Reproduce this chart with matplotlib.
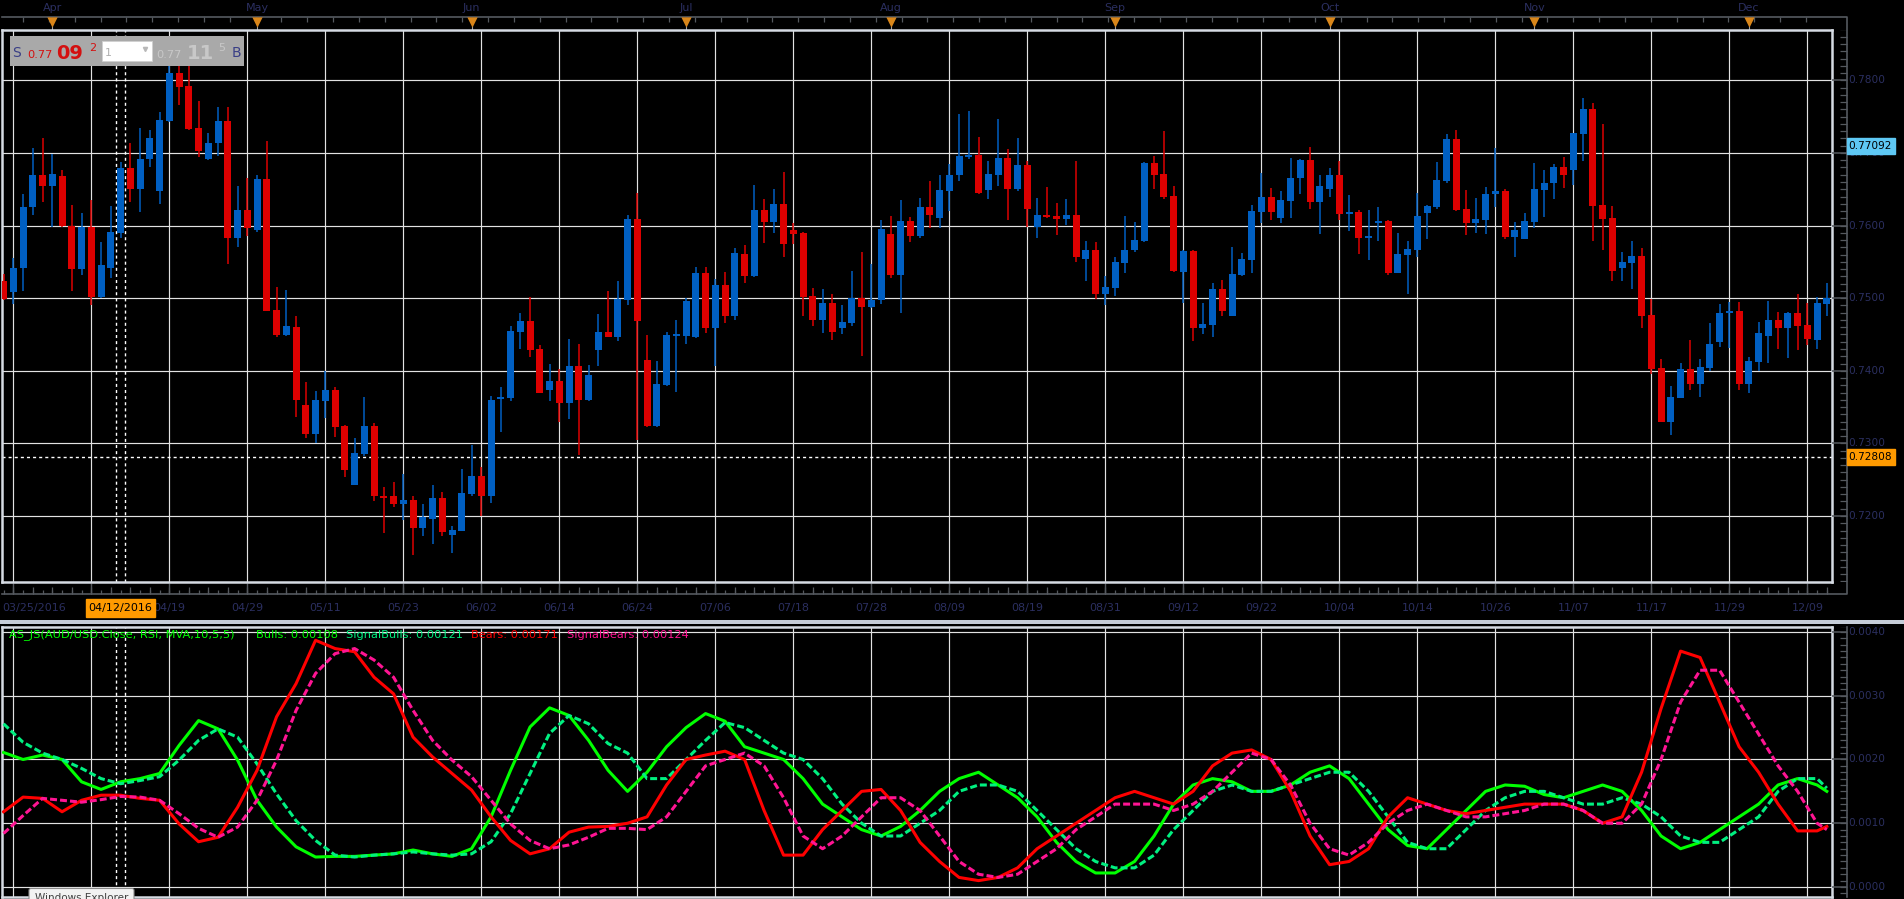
import matplotlib
matplotlib.use("Agg")
import matplotlib.pyplot as plt
import numpy as np
from matplotlib.patches import Rectangle, FancyBboxPatch

plt.rcParams["font.family"] = ["DejaVu Sans"]
plt.rcParams["lines.scale_dashes"] = False

W, H = 1904, 899

# ---- daily AUD/USD candles, index 0 = 03/25/2016 ----
opens = [
    0.7524, 0.7508, 0.7542, 0.7625, 0.7669, 0.7654, 0.7668, 0.7600, 0.7540, 0.7598,
    0.7502, 0.7541, 0.7590, 0.7679, 0.7651, 0.7691, 0.7648, 0.7744, 0.7810, 0.7792,
    0.7734, 0.7691, 0.7713, 0.7744, 0.7583, 0.7621, 0.7594, 0.7664, 0.7484, 0.7449,
    0.7460, 0.7353, 0.7313, 0.7359, 0.7373, 0.7324, 0.7243, 0.7285, 0.7324, 0.7228,
    0.7227, 0.7216, 0.7222, 0.7183, 0.7196, 0.7225, 0.7174, 0.7180, 0.7230, 0.7255,
    0.7228, 0.7361, 0.7363, 0.7454, 0.7469, 0.7430, 0.7373, 0.7386, 0.7355, 0.7407,
    0.7360, 0.7429, 0.7453, 0.7447, 0.7498, 0.7609, 0.7415, 0.7324, 0.7381, 0.7448,
    0.7448, 0.7446, 0.7535, 0.7459, 0.7518, 0.7476, 0.7561, 0.7530, 0.7621, 0.7605,
    0.7630, 0.7594, 0.7590, 0.7503, 0.7470, 0.7493, 0.7459, 0.7466, 0.7500, 0.7488,
    0.7497, 0.7588, 0.7532, 0.7606, 0.7585, 0.7626, 0.7611, 0.7648, 0.7669, 0.7695,
    0.7697, 0.7649, 0.7670, 0.7693, 0.7651, 0.7683, 0.7598, 0.7615, 0.7613, 0.7609,
    0.7615, 0.7554, 0.7566, 0.7506, 0.7514, 0.7549, 0.7566, 0.7579, 0.7686, 0.7671,
    0.7641, 0.7536, 0.7565, 0.7459, 0.7463, 0.7513, 0.7476, 0.7532, 0.7553, 0.7619,
    0.7639, 0.7611, 0.7634, 0.7665, 0.7690, 0.7633, 0.7651, 0.7670, 0.7616, 0.7619,
    0.7583, 0.7604, 0.7606, 0.7535, 0.7559, 0.7567, 0.7617, 0.7626, 0.7662, 0.7719,
    0.7623, 0.7603, 0.7608, 0.7643, 0.7648, 0.7584, 0.7582, 0.7605, 0.7649, 0.7658,
    0.7681, 0.7676, 0.7726, 0.7760, 0.7628, 0.7610, 0.7542, 0.7549, 0.7558, 0.7477,
    0.7404, 0.7329, 0.7363, 0.7402, 0.7382, 0.7404, 0.7440, 0.7479, 0.7482, 0.7382,
    0.7412, 0.7448, 0.7470, 0.7459, 0.7480, 0.7463, 0.7443, 0.7492,
]
highs = [
    0.7533, 0.7555, 0.7643, 0.7707, 0.7721, 0.7699, 0.7677, 0.7628, 0.7617, 0.7635,
    0.7577, 0.7627, 0.7688, 0.7714, 0.7734, 0.7732, 0.7756, 0.7823, 0.7826, 0.7832,
    0.7772, 0.7727, 0.7763, 0.7763, 0.7654, 0.7665, 0.7670, 0.7717, 0.7515, 0.7511,
    0.7475, 0.7384, 0.7372, 0.7400, 0.7378, 0.7325, 0.7308, 0.7364, 0.7328, 0.7240,
    0.7247, 0.7258, 0.7227, 0.7217, 0.7242, 0.7233, 0.7186, 0.7265, 0.7298, 0.7267,
    0.7365, 0.7377, 0.7462, 0.7479, 0.7502, 0.7435, 0.7410, 0.7402, 0.7444, 0.7437,
    0.7408, 0.7478, 0.7510, 0.7524, 0.7615, 0.7645, 0.7449, 0.7413, 0.7453, 0.7470,
    0.7500, 0.7543, 0.7543, 0.7526, 0.7536, 0.7569, 0.7573, 0.7656, 0.7637, 0.7650,
    0.7674, 0.7604, 0.7591, 0.7514, 0.7513, 0.7506, 0.7491, 0.7537, 0.7564, 0.7547,
    0.7608, 0.7613, 0.7635, 0.7612, 0.7638, 0.7661, 0.7670, 0.7685, 0.7754, 0.7758,
    0.7722, 0.7689, 0.7747, 0.7705, 0.7721, 0.7689, 0.7638, 0.7653, 0.7631, 0.7637,
    0.7689, 0.7579, 0.7577, 0.7531, 0.7557, 0.7613, 0.7605, 0.7687, 0.7696, 0.7730,
    0.7654, 0.7566, 0.7566, 0.7493, 0.7521, 0.7525, 0.7570, 0.7562, 0.7628, 0.7672,
    0.7652, 0.7648, 0.7693, 0.7691, 0.7708, 0.7670, 0.7679, 0.7689, 0.7642, 0.7621,
    0.7621, 0.7626, 0.7608, 0.7590, 0.7579, 0.7645, 0.7628, 0.7688, 0.7726, 0.7732,
    0.7649, 0.7638, 0.7653, 0.7707, 0.7650, 0.7605, 0.7617, 0.7686, 0.7677, 0.7685,
    0.7694, 0.7728, 0.7776, 0.7769, 0.7740, 0.7627, 0.7564, 0.7579, 0.7569, 0.7499,
    0.7416, 0.7379, 0.7411, 0.7442, 0.7416, 0.7466, 0.7492, 0.7495, 0.7495, 0.7419,
    0.7467, 0.7496, 0.7481, 0.7481, 0.7506, 0.7493, 0.7502, 0.7521,
]
lows = [
    0.7498, 0.7492, 0.7510, 0.7615, 0.7632, 0.7598, 0.7598, 0.7510, 0.7532, 0.7491,
    0.7500, 0.7528, 0.7583, 0.7632, 0.7619, 0.7680, 0.7630, 0.7743, 0.7766, 0.7732,
    0.7694, 0.7690, 0.7696, 0.7547, 0.7571, 0.7586, 0.7591, 0.7482, 0.7447, 0.7448,
    0.7337, 0.7308, 0.7300, 0.7335, 0.7309, 0.7254, 0.7242, 0.7282, 0.7221, 0.7176,
    0.7212, 0.7195, 0.7146, 0.7173, 0.7161, 0.7172, 0.7149, 0.7179, 0.7228, 0.7200,
    0.7218, 0.7315, 0.7359, 0.7430, 0.7419, 0.7369, 0.7359, 0.7330, 0.7334, 0.7284,
    0.7359, 0.7406, 0.7446, 0.7441, 0.7490, 0.7304, 0.7323, 0.7323, 0.7379, 0.7371,
    0.7437, 0.7445, 0.7452, 0.7407, 0.7466, 0.7470, 0.7521, 0.7529, 0.7576, 0.7590,
    0.7557, 0.7575, 0.7476, 0.7462, 0.7452, 0.7443, 0.7451, 0.7462, 0.7421, 0.7486,
    0.7492, 0.7528, 0.7480, 0.7577, 0.7583, 0.7597, 0.7597, 0.7620, 0.7661, 0.7691,
    0.7644, 0.7636, 0.7654, 0.7608, 0.7648, 0.7598, 0.7583, 0.7611, 0.7587, 0.7601,
    0.7550, 0.7524, 0.7499, 0.7490, 0.7503, 0.7535, 0.7563, 0.7578, 0.7651, 0.7636,
    0.7536, 0.7494, 0.7441, 0.7451, 0.7446, 0.7475, 0.7475, 0.7530, 0.7534, 0.7604,
    0.7608, 0.7603, 0.7611, 0.7644, 0.7623, 0.7589, 0.7640, 0.7608, 0.7592, 0.7561,
    0.7553, 0.7579, 0.7532, 0.7534, 0.7506, 0.7556, 0.7581, 0.7623, 0.7659, 0.7620,
    0.7587, 0.7590, 0.7589, 0.7625, 0.7582, 0.7557, 0.7581, 0.7597, 0.7612, 0.7637,
    0.7652, 0.7656, 0.7689, 0.7579, 0.7567, 0.7524, 0.7523, 0.7512, 0.7459, 0.7396,
    0.7329, 0.7311, 0.7362, 0.7373, 0.7364, 0.7400, 0.7433, 0.7432, 0.7374, 0.7370,
    0.7400, 0.7411, 0.7430, 0.7417, 0.7428, 0.7435, 0.7430, 0.7476,
]
closes = [
    0.7499, 0.7542, 0.7625, 0.7669, 0.7654, 0.7671, 0.7599, 0.7540, 0.7598, 0.7502,
    0.7545, 0.7591, 0.7679, 0.7651, 0.7692, 0.7721, 0.7745, 0.7810, 0.7791, 0.7733,
    0.7703, 0.7714, 0.7744, 0.7583, 0.7621, 0.7596, 0.7664, 0.7483, 0.7449, 0.7461,
    0.7360, 0.7313, 0.7360, 0.7373, 0.7322, 0.7264, 0.7287, 0.7324, 0.7227, 0.7225,
    0.7216, 0.7222, 0.7183, 0.7198, 0.7225, 0.7178, 0.7181, 0.7232, 0.7255, 0.7228,
    0.7360, 0.7364, 0.7455, 0.7469, 0.7429, 0.7370, 0.7386, 0.7355, 0.7407, 0.7360,
    0.7394, 0.7453, 0.7447, 0.7499, 0.7609, 0.7468, 0.7324, 0.7382, 0.7449, 0.7449,
    0.7496, 0.7535, 0.7459, 0.7518, 0.7476, 0.7562, 0.7530, 0.7621, 0.7605, 0.7630,
    0.7574, 0.7589, 0.7502, 0.7470, 0.7493, 0.7454, 0.7467, 0.7500, 0.7488, 0.7497,
    0.7595, 0.7532, 0.7606, 0.7585, 0.7626, 0.7614, 0.7649, 0.7670, 0.7696, 0.7697,
    0.7645, 0.7671, 0.7693, 0.7651, 0.7683, 0.7623, 0.7615, 0.7612, 0.7609, 0.7615,
    0.7557, 0.7566, 0.7506, 0.7515, 0.7550, 0.7566, 0.7580, 0.7686, 0.7670, 0.7640,
    0.7537, 0.7565, 0.7459, 0.7464, 0.7513, 0.7483, 0.7533, 0.7554, 0.7620, 0.7639,
    0.7619, 0.7635, 0.7665, 0.7690, 0.7633, 0.7654, 0.7670, 0.7616, 0.7619, 0.7583,
    0.7584, 0.7606, 0.7535, 0.7561, 0.7568, 0.7613, 0.7627, 0.7663, 0.7719, 0.7621,
    0.7603, 0.7609, 0.7643, 0.7648, 0.7584, 0.7594, 0.7606, 0.7650, 0.7659, 0.7681,
    0.7669, 0.7727, 0.7760, 0.7627, 0.7609, 0.7538, 0.7550, 0.7558, 0.7476, 0.7402,
    0.7330, 0.7364, 0.7402, 0.7382, 0.7405, 0.7437, 0.7480, 0.7482, 0.7382, 0.7413,
    0.7452, 0.7470, 0.7459, 0.7480, 0.7462, 0.7444, 0.7493, 0.7500,
]

# ---- indicator (AS_JS) sampled every 2 bars ----
ind_idx = list(range(0, 188, 2)) + [187]
bulls = [
    0.00211, 0.0020, 0.00207, 0.0020, 0.00165, 0.00153, 0.00165, 0.0017, 0.00178, 0.00222,
    0.00261, 0.00248, 0.00199, 0.00136, 0.00094, 0.00063, 0.00047, 0.00048, 0.00048, 0.0005,
    0.00052, 0.00058, 0.00052, 0.00048, 0.0006, 0.0011, 0.00183, 0.00251, 0.00281, 0.00269,
    0.0023, 0.00183, 0.0015, 0.0018, 0.0022, 0.0025, 0.00272, 0.0026, 0.0022, 0.0021,
    0.0020, 0.0017, 0.0013, 0.0011, 0.0009, 0.0008, 0.00095, 0.0012, 0.0015, 0.0017,
    0.0018, 0.0016, 0.0014, 0.0011, 0.0007, 0.0004, 0.00022, 0.00022, 0.0004, 0.0008,
    0.0013, 0.0016, 0.0017, 0.00165, 0.0015, 0.0015, 0.0016, 0.0018, 0.0019, 0.0017,
    0.0013, 0.0009, 0.00065, 0.0006, 0.0009, 0.0012, 0.0015, 0.0016, 0.00158, 0.00145,
    0.0014, 0.0015, 0.0016, 0.0015, 0.0012, 0.0008, 0.0006, 0.0007, 0.0009, 0.0011,
    0.0013, 0.0016, 0.0017, 0.0016, 0.0015,
]
signal_bulls = [
    0.00256, 0.00227, 0.0021, 0.0020, 0.00186, 0.0017, 0.00162, 0.00167, 0.00173, 0.00199,
    0.0023, 0.00248, 0.00235, 0.00193, 0.00146, 0.00104, 0.00073, 0.0005, 0.00047, 0.0005,
    0.00052, 0.00055, 0.00052, 0.0005, 0.00052, 0.00071, 0.00115, 0.00178, 0.00241, 0.00269,
    0.00256, 0.00225, 0.0021, 0.0017, 0.0017, 0.0020, 0.0023, 0.00258, 0.0025, 0.0023,
    0.0021, 0.0020, 0.0017, 0.0013, 0.0010, 0.0008, 0.0008, 0.0010, 0.0012, 0.0015,
    0.0016, 0.0016, 0.0015, 0.0012, 0.0009, 0.0006, 0.0004, 0.0003, 0.0003, 0.0005,
    0.0009, 0.0012, 0.0015, 0.0016, 0.0015, 0.0015, 0.0016, 0.0017, 0.0018, 0.0018,
    0.0015, 0.0011, 0.0007, 0.0006, 0.0006, 0.0009, 0.0012, 0.0014, 0.0015, 0.0015,
    0.0014, 0.0013, 0.0013, 0.0014, 0.0013, 0.0011, 0.0008, 0.0007, 0.0007, 0.0009,
    0.0011, 0.0015, 0.0017, 0.0017, 0.00155,
]
bears = [
    0.00118, 0.00141, 0.00139, 0.00118, 0.00136, 0.00144, 0.00144, 0.00139, 0.00136, 0.00099,
    0.00071, 0.00078, 0.00125, 0.00183, 0.00267, 0.00319, 0.00387, 0.00374, 0.00369, 0.00329,
    0.00303, 0.00235, 0.00204, 0.00178, 0.00152, 0.0011, 0.00073, 0.00052, 0.0006, 0.00086,
    0.00094, 0.00095, 0.0010, 0.0011, 0.0016, 0.0020, 0.00207, 0.00213, 0.0020, 0.0012,
    0.0005, 0.0005, 0.0009, 0.0012, 0.0015, 0.00153, 0.0012, 0.0007, 0.0004, 0.00015,
    0.0001, 0.00015, 0.0003, 0.0006, 0.0008, 0.0010, 0.0012, 0.0014, 0.0015, 0.0014,
    0.0013, 0.0015, 0.0019, 0.0021, 0.00215, 0.0020, 0.0015, 0.0008, 0.00035, 0.0004,
    0.0006, 0.0011, 0.0014, 0.0013, 0.0012, 0.00115, 0.0012, 0.00125, 0.0013, 0.0013,
    0.0013, 0.0012, 0.0010, 0.0011, 0.0018, 0.0028, 0.0037, 0.0036, 0.0029, 0.0022,
    0.0018, 0.0013, 0.00088, 0.00088, 0.00095,
]
signal_bears = [
    0.00084, 0.00112, 0.00139, 0.00136, 0.00133, 0.00137, 0.00142, 0.00141, 0.00136, 0.00115,
    0.00092, 0.00078, 0.00094, 0.00136, 0.00199, 0.00277, 0.00335, 0.00366, 0.00374, 0.00356,
    0.00329, 0.00277, 0.0023, 0.00199, 0.00173, 0.00136, 0.00099, 0.00073, 0.0006, 0.00066,
    0.00078, 0.00092, 0.00092, 0.0009, 0.0011, 0.0015, 0.0019, 0.0020, 0.0021, 0.0019,
    0.0014, 0.0008, 0.0006, 0.0008, 0.0011, 0.0014, 0.0014, 0.0012, 0.0008, 0.0004,
    0.0002, 0.00015, 0.0002, 0.0004, 0.0006, 0.0009, 0.0011, 0.0013, 0.0013, 0.0013,
    0.0012, 0.0013, 0.0015, 0.0018, 0.0021, 0.0020, 0.0016, 0.0010, 0.0006, 0.0005,
    0.0007, 0.0010, 0.0012, 0.0013, 0.0012, 0.0011, 0.0011, 0.00115, 0.0012, 0.0013,
    0.0013, 0.0012, 0.0010, 0.0010, 0.0013, 0.0020, 0.0029, 0.0034, 0.0034, 0.0029,
    0.0024, 0.0019, 0.0015, 0.0010, 0.0009,
]

# ---- axis labels ----
first_date = "03/25/2016"
date_tick_idx = [1 + 8 * k for k in range(24)]
date_labels = ["", "", "04/19", "04/29", "05/11", "05/23", "06/02", "06/14", "06/24",
               "07/06", "07/18", "07/28", "08/09", "08/19", "08/31", "09/12", "09/22",
               "10/04", "10/14", "10/26", "11/07", "11/17", "11/29", "12/09"]
month_names = ["Apr", "May", "Jun", "Jul", "Aug", "Sep", "Oct", "Nov", "Dec"]
month_idx = [5, 26, 48, 70, 91, 114, 136, 157, 179]
price_ticks = [0.72, 0.73, 0.74, 0.75, 0.76, 0.77, 0.78]
ind_ticks = [0.0, 0.001, 0.002, 0.003, 0.004]
cursor_idx = 12
cursor_date = "04/12/2016"
cursor_price = 0.72808
last_price = 0.77092

# ---- style ----
BLUE = "#005fc2"
RED = "#dd0000"
GRID = "#e2e2e2"
BORDER = "#d6dbe3"
FRAME = "#55595f"
LABEL = "#2b2f60"
ORANGE = "#ff9a00"
XLIM = (-0.16, 187.53)
PRICE_LIM = (0.71091, 0.78693)
IND_LIM = (-0.000157, 0.004078)


def px_axes(fig, x0, y0, x1, y1, **kw):
    return fig.add_axes([x0 / W, 1 - y1 / H, (x1 - x0) / W, (y1 - y0) / H], **kw)


def panel_style(ax):
    ax.set_facecolor("black")
    ax.set_xlim(*XLIM)
    ax.set_xticks([])
    ax.set_yticks([])
    for s in ax.spines.values():
        s.set_color(BORDER)
        s.set_linewidth(1.8)


fig = plt.figure(figsize=(W / 100, H / 100), dpi=100, facecolor="black")

# background frame lines (pixel coordinates)
ov = px_axes(fig, 0, 0, W, H, zorder=0)
ov.set_xlim(0, W)
ov.set_ylim(H, 0)
ov.axis("off")
ov.plot([2, 1847, 1847, 2], [17, 17, 594, 594], color=FRAME, lw=1.2)
ov.plot([1847, 1847], [627, 897], color=FRAME, lw=1.2)
ov.add_patch(Rectangle((0, 619.5), W, 4, color="#c6cdd8", lw=0))

# month navigator strip
axm = px_axes(fig, 2, 0, 1832, 30, zorder=1)
axm.set_xlim(*XLIM)
axm.set_ylim(30, 0)
axm.axis("off")
axm.vlines(np.arange(2.0, 187.5, 2.65), 17, 21.5, color=FRAME, lw=0.9)
axm.vlines(month_idx, 25, 30, color="#9aa0a8", lw=0.8)
axm.scatter(month_idx, [21.5] * len(month_idx), marker="v", s=55, color="#d9861a",
            zorder=3, linewidths=0)
for m, name in zip(month_idx, month_names):
    axm.text(m, 8, name, color=LABEL, fontsize=8, ha="center", va="center")

# price panel
axp = px_axes(fig, 2, 30, 1832, 582, zorder=2)
panel_style(axp)
axp.set_ylim(*PRICE_LIM)
axp.hlines(price_ticks, *XLIM, color=GRID, lw=0.85, zorder=1)
axp.vlines(date_tick_idx, *PRICE_LIM, color=GRID, lw=0.85, zorder=1)
axp.vlines([cursor_idx - 0.5, cursor_idx + 0.5], *PRICE_LIM, color="white",
           lw=1.0, linestyles=[(0, (2.2, 2.2))], zorder=2)
axp.hlines(cursor_price, *XLIM, color="white", lw=1.0, linestyles=[(0, (2.2, 2.2))],
           zorder=2)

o = np.array(opens)
c = np.array(closes)
hi = np.array(highs)
lo = np.array(lows)
idx = np.arange(len(o))
cols = np.where(c >= o, BLUE, RED)
axp.vlines(idx, lo, hi, colors=cols, lw=1.1, zorder=3)
axp.bar(idx, np.maximum(np.abs(c - o), 0.00022), width=0.72, bottom=np.minimum(o, c),
        color=cols, edgecolor="none", zorder=4)

# price scale
axr = px_axes(fig, 1832, 30, W, 582, zorder=2)
axr.set_xlim(1832, W)
axr.set_ylim(*PRICE_LIM)
axr.axis("off")
minor_p = np.round(np.arange(0.711, 0.787, 0.001), 4)
axr.hlines(minor_p, 1840, 1847, color=FRAME, lw=0.9)
axr.hlines(price_ticks, 1832, 1847, color=FRAME, lw=1.1)
for p in price_ticks:
    axr.text(1848.5, p, f"{p:.4f}", color=LABEL, fontsize=7.6, va="center", ha="left")
box_h = 0.0011
axr.add_patch(Rectangle((1847, last_price - box_h), 48, 2 * box_h, color="#5ec8f4", zorder=5))
axr.text(1848.5, last_price, f"{last_price:.5f}", color="black", fontsize=7.6,
         va="center", ha="left", zorder=6)
axr.add_patch(Rectangle((1847, cursor_price - box_h), 48, 2 * box_h, color=ORANGE, zorder=5))
axr.text(1848.5, cursor_price, f"{cursor_price:.5f}", color="black", fontsize=7.6,
         va="center", ha="left", zorder=6)

# date axis
axd = px_axes(fig, 2, 582, 1832, 620, zorder=1)
axd.set_xlim(*XLIM)
axd.set_ylim(620, 582)
axd.axis("off")
axd.vlines(idx, 590, 594, color=FRAME, lw=0.9)
axd.vlines(idx[1::2], 587, 594, color=FRAME, lw=0.9)
axd.vlines(date_tick_idx, 583, 594, color=FRAME, lw=1.0)
axd.text(XLIM[0] + 0.05, 608, first_date, color=LABEL, fontsize=8, ha="left", va="center")
for t, lab in zip(date_tick_idx, date_labels):
    if lab:
        axd.text(t, 608, lab, color=LABEL, fontsize=8, ha="center", va="center", zorder=2)
axd.add_patch(Rectangle((cursor_idx - 3.54, 599), 7.08, 18, color=ORANGE, zorder=3))
axd.text(cursor_idx, 608, cursor_date, color="black", fontsize=8, ha="center",
         va="center", zorder=4)

# indicator panel
axi = px_axes(fig, 2, 627, 1832, 897, zorder=2)
panel_style(axi)
axi.set_ylim(*IND_LIM)
axi.hlines(ind_ticks, *XLIM, color=GRID, lw=0.85, zorder=1)
axi.vlines(date_tick_idx, *IND_LIM, color=GRID, lw=0.85, zorder=1)
axi.vlines([cursor_idx - 0.5, cursor_idx + 0.5], *IND_LIM, color="white",
           lw=1.0, linestyles=[(0, (2.2, 2.2))], zorder=2)
axi.plot(ind_idx, bulls, color="#00ff00", lw=2.2, zorder=3)
axi.plot(ind_idx, signal_bulls, color="#00f080", lw=2.2, dashes=(5, 2.2), zorder=3)
axi.plot(ind_idx, bears, color="#ff0000", lw=2.2, zorder=3)
axi.plot(ind_idx, signal_bears, color="#ff1493", lw=2.2, dashes=(5, 2.2), zorder=3)

legend_parts = [
    (9, "AS_JS(AUD/USD.Close, RSI, MVA,10,5,5)", "#00ff00"),
    (256, "Bulls: 0.00108", "#00ff00"),
    (346, "SignalBulls: 0.00121", "#00f080"),
    (471, "Bears: 0.00171", "#ff0000"),
    (567, "SignalBears: 0.00124", "#ff1493"),
]
for xp, txt, col in legend_parts:
    fig.text(xp / W, 1 - 634.5 / H, txt, color=col, fontsize=8.2, ha="left", va="center",
             zorder=5)

# indicator scale
axir = px_axes(fig, 1832, 627, W, 897, zorder=2)
axir.set_xlim(1832, W)
axir.set_ylim(*IND_LIM)
axir.axis("off")
minor_i = np.round(np.arange(-0.0001, 0.0041, 0.0001), 5)
axir.hlines(minor_i, 1840, 1847, color=FRAME, lw=0.9)
axir.hlines(ind_ticks, 1832, 1847, color=FRAME, lw=1.1)
for v in ind_ticks:
    axir.text(1848.5, v, f"{v:.4f}", color=LABEL, fontsize=7.6, va="center", ha="left")

# overlays: quote box and tooltip
top = px_axes(fig, 0, 0, W, H, zorder=10)
top.set_xlim(0, W)
top.set_ylim(H, 0)
top.axis("off")
top.patch.set_alpha(0)
top.add_patch(Rectangle((10, 36), 234, 30, color="#a9a9a9", lw=0))
top.add_patch(Rectangle((102, 41), 50, 20, facecolor="white", edgecolor="#d0d0d0", lw=0.6))
top.text(12, 57, "S", color="#3a3f86", fontsize=10, va="baseline")
top.text(27, 58, "0.77", color="#d41010", fontsize=8.2, va="baseline")
top.text(56, 59, "09", color="#d41010", fontsize=14, fontweight="bold", va="baseline")
top.text(89, 51, "2", color="#d41010", fontsize=8, va="baseline")
top.text(105, 56, "1", color="#b0b0b0", fontsize=8, va="baseline")
top.plot([145], [49], marker="v", ms=3, color="#b8b8b8")
top.text(156, 58, "0.77", color="#c8c8c8", fontsize=8.2, va="baseline")
top.text(187, 59, "11", color="#c8c8c8", fontsize=14, fontweight="bold", va="baseline")
top.text(218, 51, "5", color="#c8c8c8", fontsize=8, va="baseline")
top.text(232, 57, "B", color="#3a3f86", fontsize=10, va="baseline")
top.add_patch(FancyBboxPatch((29, 888.5), 105, 16, boxstyle="round,pad=0,rounding_size=2",
                             facecolor="#f2f2f2", edgecolor="#8c8c8c", lw=0.8))
top.text(81.5, 898, "Windows Explorer", color="#404040", fontsize=7.5, ha="center",
         va="center")

fig.savefig("out.png", dpi=100, facecolor="black")
